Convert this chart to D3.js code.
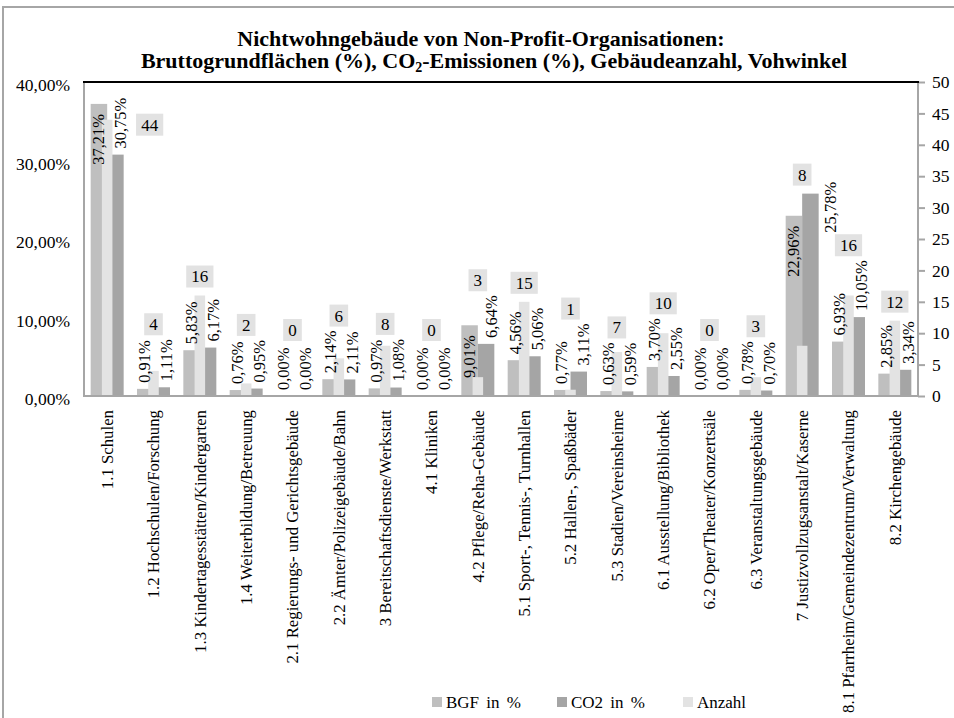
<!DOCTYPE html>
<html>
<head>
	<meta charset="utf-8">
	<title>Vohwinkel NPO</title>
	<script src="https://d3js.org/d3.v7.min.js"></script>
	<style>
	*{
		margin:0;
		padding:0;
	}
	body { background:#fff; }
	svg text { font-family: "Liberation Serif", "Times New Roman", serif; fill:#000; }
</style>
</head>
<body>

	<svg id="chart" width="954" height="718"></svg>

	<script>

	// data
	var categories = [
		"1.1 Schulen",
		"1.2 Hochschulen/Forschung",
		"1.3 Kindertagesstätten/Kindergarten",
		"1.4 Weiterbildung/Betreuung",
		"2.1 Regierungs- und Gerichtsgebäude",
		"2.2 Ämter/Polizeigebäude/Bahn",
		"3 Bereitschaftsdienste/Werkstatt",
		"4.1 Kliniken",
		"4.2 Pflege/Reha-Gebäude",
		"5.1 Sport-, Tennis-, Turnhallen",
		"5.2 Hallen-, Spaßbäder",
		"5.3 Stadien/Vereinsheime",
		"6.1 Ausstellung/Bibliothek",
		"6.2 Oper/Theater/Konzertsäle",
		"6.3 Veranstaltungsgebäude",
		"7 Justizvollzugsanstalt/Kaserne",
		"8.1 Pfarrheim/Gemeindezentrum/Verwaltung",
		"8.2 Kirchengebäude"
	];
	var bgf    = [37.21, 0.91, 5.83, 0.76, 0.00, 2.14, 0.97, 0.00, 9.01, 4.56, 0.77, 0.63, 3.70, 0.00, 0.78, 22.96, 6.93, 2.85];
	var co2    = [30.75, 1.11, 6.17, 0.95, 0.00, 2.11, 1.08, 0.00, 6.64, 5.06, 3.11, 0.59, 2.55, 0.00, 0.70, 25.78, 10.05, 3.34];
	var anzahl = [44, 4, 16, 2, 0, 6, 8, 0, 3, 15, 1, 7, 10, 0, 3, 8, 16, 12];
	var leftTicks  = [0, 10, 20, 30, 40];
	var rightTicks = [0, 5, 10, 15, 20, 25, 30, 35, 40, 45, 50];
	var legendNames = ["BGF in %", "CO2 in %", "Anzahl"];

	var colBGF = "#bfbfbf", colCO2 = "#a5a5a5", colAnz = "#e3e3e3", axisCol = "#a6a6a6";

	var svg = d3.select("#chart");
	var plot = {left:84, right:918, top:82, bottom:396};

	// outer chart frame (runs off the right / bottom edge)
	svg.append("path")
		.attr("d", "M3,718V7H954")
		.attr("fill","none").attr("stroke", axisCol).attr("stroke-width",2);

	// title
	var title = svg.append("text").attr("text-anchor","middle")
		.style("font-weight","bold").style("font-size","22px");
	title.append("tspan").attr("x",481).attr("y",46).text("Nichtwohngebäude von Non-Profit-Organisationen:");
	var t2 = title.append("tspan").attr("x",494).attr("y",68);
	t2.append("tspan").text("Bruttogrundflächen (%), CO");
	t2.append("tspan").attr("dy",4).style("font-size","14px").text("2");
	t2.append("tspan").attr("dy",-4).text("-Emissionen (%), Gebäudeanzahl, Vohwinkel");

	// scales
	var x = d3.scaleBand().domain(categories).range([plot.left, plot.right])
		.paddingInner(0.288).paddingOuter(0.144);
	var x1 = d3.scaleBand().domain(["bgf","co2"]).range([0, x.bandwidth()]);
	var y = d3.scaleLinear().domain([0,40]).range([plot.bottom, plot.top]);
	var yR = d3.scaleLinear().domain([0,50]).range([plot.bottom, plot.top]);
	var anzW = x.bandwidth()*0.32;

	function pct(v){ return v.toFixed(2).replace(".", ",") + "%"; }

	var rows = categories.map(function(c,i){ return {cat:c, bgf:bgf[i], co2:co2[i], anz:anzahl[i]}; });

	// bars
	var g = svg.append("g");
	g.selectAll(".bgf").data(rows).enter().append("rect")
		.attr("x", function(d){ return x(d.cat)+x1("bgf"); })
		.attr("y", function(d){ return y(d.bgf); })
		.attr("width", x1.bandwidth())
		.attr("height", function(d){ return plot.bottom - y(d.bgf); })
		.attr("fill", colBGF);
	g.selectAll(".co2").data(rows).enter().append("rect")
		.attr("x", function(d){ return x(d.cat)+x1("co2"); })
		.attr("y", function(d){ return y(d.co2); })
		.attr("width", x1.bandwidth())
		.attr("height", function(d){ return plot.bottom - y(d.co2); })
		.attr("fill", colCO2);
	// secondary axis series sits on top, narrower
	g.selectAll(".anz").data(rows).enter().append("rect")
		.attr("x", function(d){ return x(d.cat)+x.bandwidth()/2-anzW/2; })
		.attr("y", function(d){ return yR(d.anz); })
		.attr("width", anzW)
		.attr("height", function(d){ return plot.bottom - yR(d.anz); })
		.attr("fill", colAnz);

	// axes
	var yAxis = d3.axisLeft(y).tickValues(leftTicks).tickSize(0).tickPadding(14)
		.tickFormat(pct);
	var ga = svg.append("g").attr("transform","translate("+plot.left+",0)").call(yAxis);
	ga.select(".domain").remove();
	ga.selectAll("text").style("font-size","17.5px").attr("dy","0.5em");

	var yAxisR = d3.axisRight(yR).tickValues(rightTicks).tickSize(7).tickPadding(7);
	var gr = svg.append("g").attr("transform","translate("+plot.right+",0)").call(yAxisR);
	gr.select(".domain").remove();
	gr.selectAll("line").attr("stroke",axisCol).attr("stroke-width",2);
	gr.selectAll("text").style("font-size","17.5px");

	svg.append("line").attr("x1",plot.left).attr("x2",plot.left).attr("y1",plot.top).attr("y2",plot.bottom+1)
		.attr("stroke",axisCol).attr("stroke-width",2);
	svg.append("line").attr("x1",plot.right).attr("x2",plot.right).attr("y1",plot.top).attr("y2",plot.bottom+1)
		.attr("stroke",axisCol).attr("stroke-width",2);
	svg.append("line").attr("x1",plot.left-1).attr("x2",plot.right+1).attr("y1",plot.bottom).attr("y2",plot.bottom)
		.attr("stroke",axisCol).attr("stroke-width",2);
	svg.append("line").attr("x1",plot.left-1).attr("x2",plot.right+1).attr("y1",plot.top).attr("y2",plot.top)
		.attr("stroke","#000").attr("stroke-width",2);

	// category labels
	var xAxis = d3.axisBottom(x).tickSize(0).tickPadding(0);
	var gx = svg.append("g").attr("transform","translate(0,"+plot.bottom+")").call(xAxis);
	gx.select(".domain").remove();
	gx.selectAll("text")
		.style("font-size","16.8px")
		.attr("text-anchor","end")
		.attr("transform","translate(0,14) rotate(-90)")
		.attr("x",0).attr("y",0).attr("dy","0.35em");

	// data labels: rotated percentages + count in grey box
	var labels = svg.append("g").style("font-size","16.5px");
	var boxes = svg.append("g");

	function pctLabel(d, key, cx){
		var top = y(d[key]);
		var t = labels.append("text").attr("dy","0.35em").text(pct(d[key]));
		var len = t.node().getComputedTextLength();
		var start;
		if(key == "bgf" && plot.bottom - top > len + 20){
			start = top + 10 + len;          // inside end
		} else {
			start = top - 6;                 // outside end
			if(start - len < plot.top + 14) start = plot.top + 14 + len;
		}
		return {node:t, x:cx, start:start, len:len, top:start-len};
	}
	function place(l){
		l.node.attr("transform","translate("+l.x+","+l.start+") rotate(-90)");
	}

	rows.forEach(function(d){
		var c = x(d.cat) + x.bandwidth()/2;
		var lb = pctLabel(d, "bgf", c-9);
		var lc = pctLabel(d, "co2", c+13);

		var txt = String(d.anz);
		var w = txt.length*8.6 + 10, h = 22;
		var barBottom = Math.min(yR(d.anz), y(d.bgf), y(d.co2), plot.bottom-47) - 8;
		var bottom = barBottom;
		[lb, lc].forEach(function(l){
			if(l.x+7 > c-w/2 && l.x-7 < c+w/2) bottom = Math.min(bottom, l.top - 4);
		});
		if(barBottom - bottom > 40){
			// keep box on the bars, push the CO2 label beside its bar
			bottom = barBottom;
			lc.x = c + 28;
			lc.start = y(d.co2) + 39;
		}
		place(lb); place(lc);

		var cx = c, cy = bottom - h/2;
		if(cy - h/2 < plot.top + 6){
			// no room above, put it beside the bars
			cx = x(d.cat) + x.bandwidth() + 26;
			cy = yR(d.anz) + 5;
		}
		boxes.append("rect").attr("x",cx-w/2).attr("y",cy-h/2).attr("width",w).attr("height",h)
			.attr("fill","#e2e2e2");
		boxes.append("text").attr("x",cx).attr("y",cy).attr("dy","0.35em")
			.attr("text-anchor","middle").style("font-size","17px").text(txt);
	});

	// legend
	var legCols = [colBGF, colCO2, colAnz];
	var legX = [432, 557, 683];
	var leg = svg.append("g");
	legendNames.forEach(function(n,i){
		leg.append("rect").attr("x",legX[i]).attr("y",697).attr("width",10).attr("height",10).attr("fill",legCols[i]);
		leg.append("text").attr("x",legX[i]+14).attr("y",702).attr("dy","0.35em")
			.style("font-size","17px").style("word-spacing","3px").text(n);
	});

</script>
</body>
</html>
